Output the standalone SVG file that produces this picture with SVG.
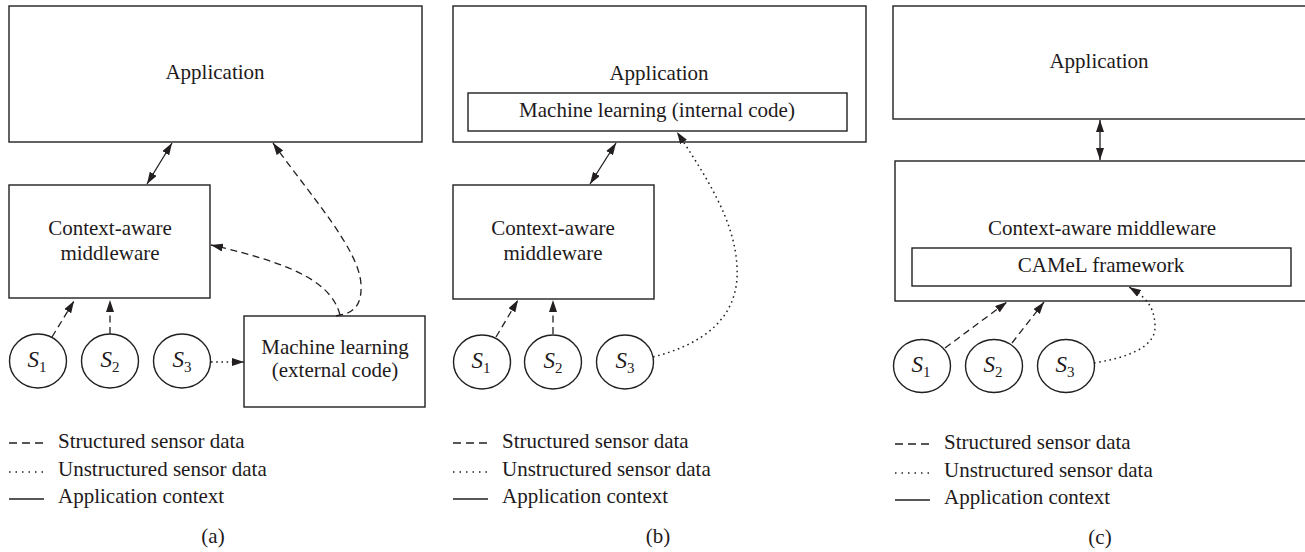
<svg xmlns="http://www.w3.org/2000/svg" width="1305" height="552" viewBox="0 0 1305 552">
  <style>
    .box { fill: #ffffff; stroke: #231f20; stroke-width: 1.4; }
    .lbl { font-family: "Liberation Serif", "Times New Roman", serif; font-size: 21px; fill: #1e1a1b; text-anchor: middle; }
    .leg { font-family: "Liberation Serif", "Times New Roman", serif; font-size: 21px; fill: #1e1a1b; }
    .sym { font-family: "Liberation Serif", "Times New Roman", serif; font-size: 23px; font-style: italic; fill: #1e1a1b; text-anchor: middle; }
    .sub { font-size: 15px; font-style: normal; }
    .solid { fill: none; stroke: #231f20; stroke-width: 1.3; }
    .dash { fill: none; stroke: #231f20; stroke-width: 1.3; stroke-dasharray: 7 4.5; }
    .dot { fill: none; stroke: #231f20; stroke-width: 1.5; stroke-dasharray: 1.6 3.6; }
    .ldash { fill: none; stroke: #231f20; stroke-width: 1.3; stroke-dasharray: 8 5; }
    .ldot { fill: none; stroke: #231f20; stroke-width: 1.4; stroke-dasharray: 1.5 5; }
  </style>
  <defs>
    <marker id="head" viewBox="0 0 12 8" refX="12" refY="4" markerWidth="12" markerHeight="8" markerUnits="userSpaceOnUse" orient="auto-start-reverse">
      <path d="M0,0 L12,4 L0,8 z" fill="#231f20"/>
    </marker>
  </defs>

  <rect width="1305" height="552" fill="#ffffff"/>

  <!-- ===== Panel (a) ===== -->
  <g id="a-application">
    <rect class="box" x="9" y="6" width="413" height="136"/>
    <text class="lbl" x="215" y="79">Application</text>
  </g>
  <g id="a-middleware">
    <rect class="box" x="9" y="185" width="201" height="113"/>
    <text class="lbl" x="110" y="235">Context-aware</text>
    <text class="lbl" x="110" y="260">middleware</text>
  </g>
  <g id="a-ml">
    <rect class="box" x="244" y="316" width="181" height="91"/>
    <text class="lbl" x="335" y="354">Machine learning</text>
    <text class="lbl" x="335" y="377">(external code)</text>
  </g>
  <g id="a-s1">
    <ellipse class="box" cx="38" cy="361" rx="28.5" ry="27"/>
    <text class="sym" x="37" y="367">S<tspan class="sub" dy="5">1</tspan></text>
  </g>
  <g id="a-s2">
    <ellipse class="box" cx="110" cy="361" rx="28.5" ry="27"/>
    <text class="sym" x="110" y="367">S<tspan class="sub" dy="5">2</tspan></text>
  </g>
  <g id="a-s3">
    <ellipse class="box" cx="182" cy="361" rx="28.5" ry="27"/>
    <text class="sym" x="182" y="367">S<tspan class="sub" dy="5">3</tspan></text>
  </g>

  <!-- ===== Panel (b) ===== -->
  <g id="b-application">
    <rect class="box" x="453" y="6" width="413" height="136"/>
    <text class="lbl" x="659" y="80">Application</text>
  </g>
  <g id="b-ml">
    <rect class="box" x="468" y="93" width="379" height="38"/>
    <text class="lbl" x="657" y="117">Machine learning (internal code)</text>
  </g>
  <g id="b-middleware">
    <rect class="box" x="453" y="185" width="201" height="114"/>
    <text class="lbl" x="553" y="235">Context-aware</text>
    <text class="lbl" x="553" y="260">middleware</text>
  </g>
  <g id="b-s1">
    <ellipse class="box" cx="482" cy="362" rx="28.5" ry="27"/>
    <text class="sym" x="481" y="368">S<tspan class="sub" dy="5">1</tspan></text>
  </g>
  <g id="b-s2">
    <ellipse class="box" cx="553" cy="362" rx="28.5" ry="27"/>
    <text class="sym" x="553" y="368">S<tspan class="sub" dy="5">2</tspan></text>
  </g>
  <g id="b-s3">
    <ellipse class="box" cx="625" cy="362" rx="28.5" ry="27"/>
    <text class="sym" x="625" y="368">S<tspan class="sub" dy="5">3</tspan></text>
  </g>

  <!-- ===== Panel (c) ===== -->
  <g id="c-application">
    <rect class="box" x="893" y="6" width="420" height="113"/>
    <text class="lbl" x="1099" y="68">Application</text>
  </g>
  <g id="c-middleware">
    <rect class="box" x="895" y="161" width="420" height="140"/>
    <text class="lbl" x="1102" y="235">Context-aware middleware</text>
  </g>
  <g id="c-camel">
    <rect class="box" x="912" y="248" width="379" height="38"/>
    <text class="lbl" x="1101" y="272">CAMeL framework</text>
  </g>
  <g id="c-s1">
    <ellipse class="box" cx="922" cy="366" rx="28.5" ry="26.5"/>
    <text class="sym" x="921" y="372">S<tspan class="sub" dy="5">1</tspan></text>
  </g>
  <g id="c-s2">
    <ellipse class="box" cx="994" cy="366" rx="28.5" ry="26.5"/>
    <text class="sym" x="993" y="372">S<tspan class="sub" dy="5">2</tspan></text>
  </g>
  <g id="c-s3">
    <ellipse class="box" cx="1066" cy="366" rx="28.5" ry="26.5"/>
    <text class="sym" x="1065" y="372">S<tspan class="sub" dy="5">3</tspan></text>
  </g>

  <!-- ===== Connectors ===== -->
  <g id="connectors">
    <!-- (a) -->
    <path class="solid" d="M147,184 L172,143" marker-start="url(#head)" marker-end="url(#head)"/>
    <path class="dash" d="M52,337 L74,301" marker-end="url(#head)"/>
    <path class="dash" d="M110,334 L110,300" marker-end="url(#head)"/>
    <path class="dot" d="M211,362 L244,362" marker-end="url(#head)"/>
    <path class="dash" d="M340,315 C332,285 300,265 211,245" marker-end="url(#head)"/>
    <path class="dash" d="M336,316 L340,315 C355,313 362,303 361,285 C360,250 310,195 273,143" marker-end="url(#head)"/>
    <!-- (b) -->
    <path class="solid" d="M590,184 L616,143" marker-start="url(#head)" marker-end="url(#head)"/>
    <path class="dash" d="M496,337 L518,300" marker-end="url(#head)"/>
    <path class="dash" d="M553,334 L553,300" marker-end="url(#head)"/>
    <path class="dot" d="M653,357 C700,345 740,320 737,267 C735,220 705,175 677,132" marker-end="url(#head)"/>
    <!-- (c) -->
    <path class="solid" d="M1100,120 L1100,160" marker-start="url(#head)" marker-end="url(#head)"/>
    <path class="dash" d="M945,348 L1007,302" marker-end="url(#head)"/>
    <path class="dash" d="M1012,343 L1044,302" marker-end="url(#head)"/>
    <path class="dot" d="M1094,363 C1125,358 1157,348 1155,325 C1154,305 1145,297 1129,287" marker-end="url(#head)"/>
  </g>

  <!-- ===== Legends and captions ===== -->
  <g id="legend-a">
    <path class="ldash" d="M9,443 L44,443"/>
    <path class="ldot" d="M9,472 L44,472"/>
    <path class="solid" d="M9,499 L44,499"/>
    <text class="leg" x="58" y="448">Structured sensor data</text>
    <text class="leg" x="58" y="476">Unstructured sensor data</text>
    <text class="leg" x="58" y="503">Application context</text>
    <text class="lbl" x="213" y="543">(a)</text>
  </g>
  <g id="legend-b">
    <path class="ldash" d="M453,443 L488,443"/>
    <path class="ldot" d="M453,472 L488,472"/>
    <path class="solid" d="M453,499 L488,499"/>
    <text class="leg" x="502" y="448">Structured sensor data</text>
    <text class="leg" x="502" y="476">Unstructured sensor data</text>
    <text class="leg" x="502" y="503">Application context</text>
    <text class="lbl" x="658" y="543">(b)</text>
  </g>
  <g id="legend-c">
    <path class="ldash" d="M895,444 L930,444"/>
    <path class="ldot" d="M895,473 L930,473"/>
    <path class="solid" d="M895,500 L930,500"/>
    <text class="leg" x="944" y="449">Structured sensor data</text>
    <text class="leg" x="944" y="477">Unstructured sensor data</text>
    <text class="leg" x="944" y="504">Application context</text>
    <text class="lbl" x="1100" y="544">(c)</text>
  </g>
</svg>
